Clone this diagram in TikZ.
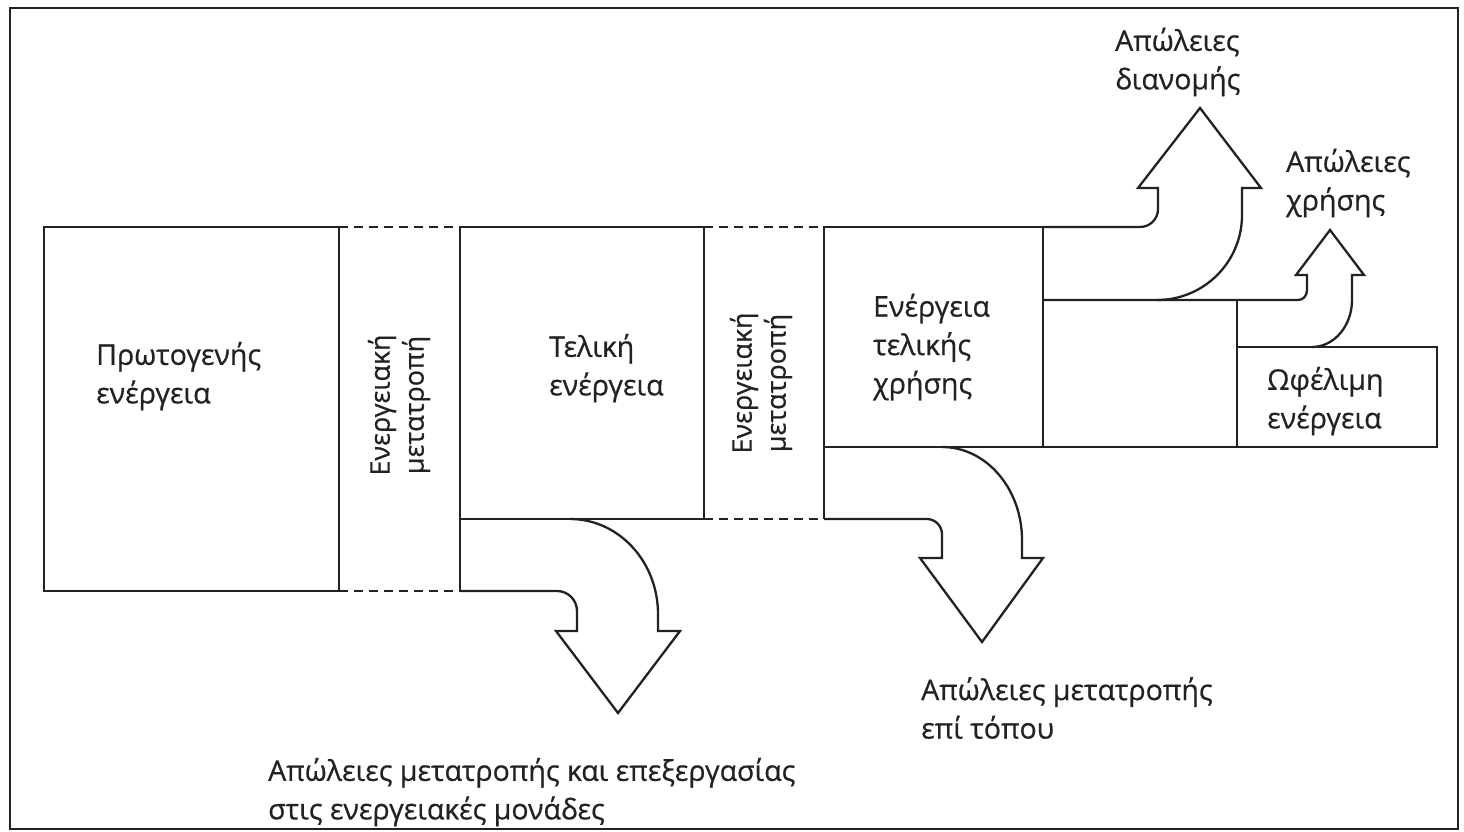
\documentclass[tikz,border=0pt]{standalone}
\usepackage{fontspec}
\setmainfont{Open Sans}
\newfontfamily\lblfont{Open Sans}[FakeBold=0.6]
\definecolor{ink}{HTML}{222222}
\begin{document}
\begin{tikzpicture}[x=1pt,y=-1pt,
  solid line/.style={draw=ink, line width=2.3pt, line join=miter},
  dashline/.style={draw=ink, line width=2.3pt, dash pattern=on 9pt off 6pt},
  frameline/.style={draw=ink, line width=2pt},
  lbl/.style={font=\lblfont\fontsize{28.5}{38.5}\selectfont, text=ink, align=left, inner sep=0pt, anchor=west},
  vlbl/.style={font=\lblfont\fontsize{27}{34}\selectfont, text=ink, align=center, inner sep=0pt, rotate=90, anchor=center}]
\useasboundingbox (0,0) rectangle (1464,832);
\fill[white] (0,0) rectangle (1464,832);
% frame
\draw[frameline] (10,8) rectangle (1458,829);
% box 1
\draw[solid line] (44,227) rectangle (339,591);
\draw[dashline] (339,227) -- (460,227);
\draw[dashline] (339,591) -- (460,591);
% box 2
\draw[solid line] (460,227) rectangle (704,519);
\draw[solid line] (460,519) -- (460,591);
% arrow 1
\draw[solid line] (460,591) -- (557,591) .. controls (568,591) and (577,600) .. (577,611)
  -- (577,631) -- (556,631) -- (618,713) -- (680,631) -- (658,631) -- (658,614)
  .. controls (658,561.6) and (618.6,519) .. (570,519);
% dashed between 2 and 3
\draw[dashline] (704,227) -- (824,227);
\draw[dashline] (704,519) -- (824,519);
% box 3
\draw[solid line] (824,227) rectangle (1043,447);
\draw[solid line] (824,447) -- (824,519);
% arrow 2
\draw[solid line] (824,519) -- (927,519) .. controls (935,519) and (942,526) .. (942,534)
  -- (942,558) -- (920,558) -- (982,642) -- (1043,558) -- (1022,558) -- (1022,540)
  .. controls (1022,488.7) and (986.2,447) .. (942,447);
% arrow 3
\draw[solid line] (1043,227) -- (1140,227) .. controls (1150,227) and (1158,219) .. (1158,209)
  -- (1158,188) -- (1138,188) -- (1200,108) -- (1261,188) -- (1242,188) -- (1242,215)
  .. controls (1242,262) and (1204,300) .. (1157,300);
% box 4 and small arrow
\draw[solid line] (1043,300) -- (1298,300) .. controls (1303,300) and (1307,296) .. (1307,290)
  -- (1307,275) -- (1296,275) -- (1330,230) -- (1364,275) -- (1352,275) -- (1352,300)
  .. controls (1352,326) and (1334,347) .. (1312,347);
\draw[solid line] (1237,300) -- (1237,447);
\draw[solid line] (1043,447) -- (1237,447);
% useful energy box
\draw[solid line] (1237,347) rectangle (1437,447);
% labels
\node[lbl] (prim) at (96,376) {Πρωτογενής\\ενέργεια};
\node[vlbl] (conv1) at (399,405) {Ενεργειακή\\μετατροπή};
\node[lbl] (final) at (549,368) {Τελική\\ενέργεια};
\node[vlbl] (conv2) at (761,383) {Ενεργειακή\\μετατροπή};
\node[lbl] (enduse) at (873,347) {Ενέργεια\\τελικής\\χρήσης};
\node[lbl] (useful) at (1267,401) {Ωφέλιμη\\ενέργεια};
\node[lbl] (distloss) at (1115,62) {Απώλειες\\διανομής};
\node[lbl] (useloss) at (1286,183) {Απώλειες\\χρήσης};
\node[lbl] (siteloss) at (921,708) {Απώλειες μετατροπής\\επί τόπου};
\node[lbl] (plantloss) at (268,792) {Απώλειες μετατροπής και επεξεργασίας\\στις ενεργειακές μονάδες};
\end{tikzpicture}
\end{document}
